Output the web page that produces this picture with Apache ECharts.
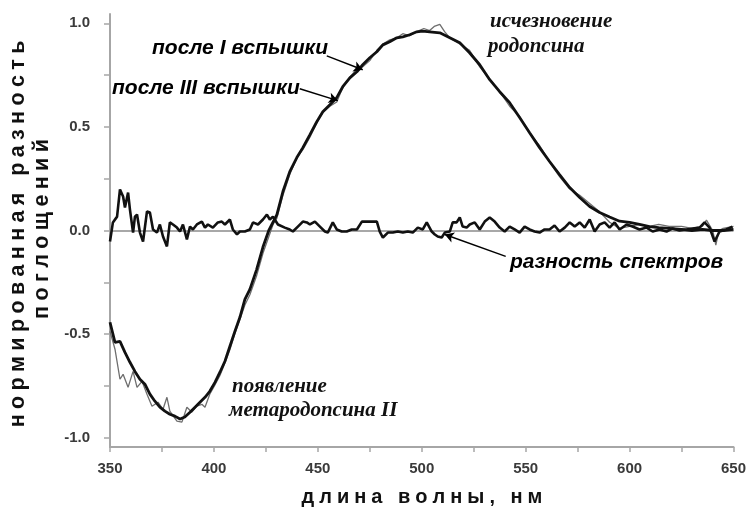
<!DOCTYPE html>
<html>
<head>
<meta charset="utf-8">
<script src="https://cdn.jsdelivr.net/npm/echarts@6/dist/echarts.min.js"></script>
<style>html,body{margin:0;padding:0;background:#fff;}#c{width:749px;height:508px;}</style>
</head>
<body>
<div id="c"></div>
<script>
// ---- data ----
const xTicks = [350, 400, 450, 500, 550, 600, 650];
const yTickLabels = [-1, -0.5, 0, 0.5, 1];
const yTicks = [-1, -0.75, -0.5, -0.25, 0, 0.25, 0.5, 0.75, 1];

// after the 1st flash (thick)
const wlThick = [350,352.4,354.8,357.2,359.6,362,364.4,366.8,369.2,371.6,374,376.4,378.8,381.2,383.7,386,388.5,390.9,393.3,395.7,398,400.5,402.9,405.3,407.7,410,412.5,414.9,417.3,420.5,423.6,426.4,430.3,433.2,436.5,439.9,442.8,446.2,449.5,452.4,455.8,459.1,462,465.4,468.8,471.6,475,478.4,481.3,484.6,488,490.9,494.2,497.6,500.5,503.8,508.7,513.5,518.3,523,527.9,532.7,537.5,542.3,547.1,551.9,556.7,561.5,566.3,571.2,576,580.8,585.6,590.4,595.2,600,604.8,609.6,614,619,625,630,635,640,645,650];
const valThick = [-0.443,-0.54,-0.535,-0.588,-0.636,-0.68,-0.718,-0.742,-0.79,-0.824,-0.853,-0.872,-0.887,-0.896,-0.91,-0.9,-0.877,-0.853,-0.829,-0.805,-0.776,-0.733,-0.684,-0.631,-0.559,-0.49,-0.419,-0.333,-0.284,-0.19,-0.08,0,0.077,0.188,0.284,0.352,0.4,0.463,0.525,0.573,0.607,0.641,0.694,0.737,0.766,0.8,0.834,0.863,0.896,0.911,0.93,0.935,0.945,0.959,0.962,0.959,0.954,0.93,0.906,0.858,0.8,0.728,0.67,0.617,0.545,0.472,0.4,0.333,0.27,0.207,0.159,0.116,0.087,0.065,0.045,0.039,0.029,0.019,0.014,0.01,0.005,0,0.005,0,0,0.005];

// after the 3rd flash (thin gray)
const wlGray = [350,352.4,354.8,356.3,358.7,361.1,363,365.4,367.8,370.2,373.1,375.5,377.4,378.8,382.2,384.6,387,389.4,391.8,394.2,395.7,398,400.5,402.9,405.3,407.7,410,412.5,414.9,417.3,420.5,423.6,426.4,428.5,430.3,433.2,436.5,439.9,442.8,446.2,449.5,452.4,455.8,459.1,462,465.4,468.8,471.6,475,478.4,481.3,484.6,488,490.9,494.2,497.6,501,503.8,506,508.7,511,513.5,518.3,523,527.9,532.7,537.5,542.3,547.1,551.9,556.7,561.5,566.3,571.2,576,580.8,585.6,590.4,595.2,600,604.8,609.6,614,619,625,630,635,637,640,641.5,643,645,650];
const valGray = [-0.487,-0.573,-0.718,-0.694,-0.757,-0.68,-0.757,-0.728,-0.79,-0.848,-0.829,-0.863,-0.805,-0.872,-0.92,-0.925,-0.853,-0.877,-0.848,-0.839,-0.853,-0.79,-0.745,-0.7,-0.64,-0.575,-0.5,-0.43,-0.36,-0.31,-0.22,-0.11,-0.03,0.03,0.06,0.17,0.27,0.35,0.39,0.45,0.52,0.57,0.6,0.62,0.69,0.74,0.78,0.79,0.82,0.87,0.9,0.92,0.93,0.95,0.94,0.96,0.975,0.965,0.985,0.995,0.96,0.93,0.9,0.87,0.79,0.73,0.67,0.6,0.55,0.47,0.41,0.33,0.26,0.2,0.17,0.13,0.09,0.04,0.01,0.02,0.03,0.02,0.03,0.02,0.02,0.01,0.02,0.05,0.0,-0.07,0.0,0.01,0.02];

// spectra difference (thick noisy, near zero)
const wlDiff = [350,351.4,353.4,354.8,356.3,357.2,358.7,359.6,361.1,362,363,364.4,365.9,367.8,369.2,370.7,372.6,374,375.5,377.4,378.8,380.3,382.2,383.7,385.1,387,388.5,389.9,391.8,394.2,395.7,397.1,399.5,401.9,403.8,405.3,407.7,409.1,411.1,412.5,414.9,417.3,418.8,421.2,423.6,425.5,426.9,428.4,430.8,434.1,436.5,438,440.4,442.8,444.7,446.2,448.6,451,453.4,454.8,457.2,459.1,461.5,463.9,466.3,468.8,471.2,473.6,476,478.4,479.8,481.3,483.7,486.1,488.5,490.9,493.3,495.7,498.1,500.5,502.4,504.8,506.3,507.7,509.6,511.1,513.5,514.9,516.8,518.3,519.7,521.6,523.1,525.5,527.9,530.3,532.7,535.1,537.5,539.9,542.3,544.7,547.1,549.5,551.9,554.3,556.7,559.1,561.5,563.9,566.3,568.8,571.2,573.6,576,578.4,580.8,583.2,585.6,588,590.4,592.8,595.2,598.6,601.4,604.8,608.2,611.1,614.4,617.8,620.7,624,627.4,630.3,633.7,636.1,638.5,640.9,643.3,646.6,649.5];
const valDiff = [-0.053,0.039,0.067,0.198,0.164,0.111,0.183,0.101,-0.01,0.067,0.077,-0.01,-0.053,0.092,0.087,0.005,-0.01,0.029,-0.029,-0.077,0.039,0.029,0.014,-0.005,0.029,-0.043,0.019,0.005,0.029,0.043,0.014,0.029,0.014,0.039,0.043,0.029,0.053,0.005,-0.019,-0.005,-0.005,0.005,0.039,0.029,0.053,0.077,0.053,0.067,0.029,0.014,0.005,-0.005,0.019,0.043,0.039,0.029,0.043,0.019,-0.005,-0.01,0.039,0.005,-0.005,-0.005,0.005,0.005,0.043,0.043,0.043,0.043,-0.005,-0.034,-0.01,-0.01,-0.005,-0.01,-0.005,-0.01,0.014,0.005,0.039,-0.005,-0.019,-0.029,-0.034,-0.01,-0.005,0.039,0.039,0.063,0.019,0.014,0.029,0.039,0.005,0.043,0.063,0.043,0.014,-0.005,0.019,0.005,-0.01,0.019,0.005,-0.005,-0.01,0.005,0.005,0.024,-0.005,0.014,0.039,0.019,0.039,0.014,0.053,-0.005,0.029,0.039,0.014,0.039,0.005,0.029,0.019,0.005,0.014,-0.005,0.005,-0.005,0.01,0,0.005,0.01,0.014,0.039,0.014,-0.053,-0.005,0.005,0.019];

// texts
const xTitle = 'длина волны, нм';
const yTitle1 = 'нормированная разность';
const yTitle2 = 'поглощений';
const lblFlash1 = 'после I вспышки';
const lblFlash3 = 'после III вспышки';
const lblDiff = 'разность спектров';
const lblRhod1 = 'исчезновение';
const lblRhod2 = 'родопсина';
const lblMeta1 = 'появление';
const lblMeta2 = 'метародопсина II';

// arrows (from label to curve), in data units [wavelength, value]
const arrowFlash1 = [[454.3, 0.843], [471.6, 0.776]];
const arrowFlash3 = [[441.3, 0.684], [459.6, 0.627]];
const arrowDiff = [[540.4, -0.125], [511.1, -0.019]];

// ---- chart ----
function zip(a, b) { const n = Math.min(a.length, b.length); const r = []; for (let i = 0; i < n; i++) r.push([a[i], b[i]]); return r; }
function spaced(s) { return s.split('').join('\u2005'); }
const SANS = '"Liberation Sans", Arial, sans-serif';
const SERIF = '"Liberation Serif", "Times New Roman", serif';
const AX = '#a6a6a6';

const chart = echarts.init(document.getElementById('c'), null, { renderer: 'canvas' });
chart.setOption({
  animation: false,
  backgroundColor: '#fff',
  grid: { left: 110, right: 15, top: 14, bottom: 61, containLabel: false },
  xAxis: {
    type: 'value', min: 350, max: 650, interval: 25,
    axisLine: { show: true, onZero: false, lineStyle: { color: AX, width: 2 } },
    axisTick: { show: true, length: 5, lineStyle: { color: AX, width: 1.5 } },
    axisLabel: { margin: 14, color: '#3a3a3a', fontFamily: SANS, fontWeight: 'bold', fontSize: 15,
      formatter: v => (xTicks.indexOf(v) >= 0 ? String(v) : '') },
    splitLine: { show: false }
  },
  yAxis: {
    type: 'value', min: -1.045, max: 1.045,
    axisLine: { show: true, onZero: false, lineStyle: { color: AX, width: 2 } },
    axisTick: { show: true, length: 6, customValues: yTicks, lineStyle: { color: AX, width: 1.5 } },
    axisLabel: { margin: 20, color: '#3a3a3a', fontFamily: SANS, fontWeight: 'bold', fontSize: 15,
      customValues: yTickLabels, formatter: v => v.toFixed(1) },
    splitLine: { show: false }
  },
  series: [
    { type: 'line', data: zip(wlGray, valGray), showSymbol: false, z: 2,
      lineStyle: { color: '#6e6e6e', width: 1.3 },
      markLine: { silent: true, symbol: 'none', label: { show: false }, z: 1,
        lineStyle: { color: '#a8a8a8', width: 2, type: 'solid' }, data: [{ yAxis: 0 }] } },
    { type: 'line', data: zip(wlThick, valThick), showSymbol: false, z: 3,
      lineStyle: { color: '#111', width: 2.8 } },
    { type: 'line', data: zip(wlDiff, valDiff), showSymbol: false, z: 4,
      lineStyle: { color: '#111', width: 2.6 },
      markLine: { silent: true, symbol: ['none', 'arrow'], symbolSize: [8, 9], label: { show: false },
        lineStyle: { color: '#000', width: 1.5, type: 'solid' },
        data: [arrowFlash1, arrowFlash3, arrowDiff].map(a => [{ coord: a[0] }, { coord: a[1] }]) } }
  ],
  graphic: [
    { type: 'text', x: 18, y: 234, rotation: Math.PI / 2,
      style: { text: spaced(yTitle1), font: 'bold 21.5px ' + SANS, fill: '#111', textAlign: 'center', textVerticalAlign: 'middle' } },
    { type: 'text', x: 42, y: 229, rotation: Math.PI / 2,
      style: { text: spaced(yTitle2), font: 'bold 21.5px ' + SANS, fill: '#111', textAlign: 'center', textVerticalAlign: 'middle' } },
    { type: 'text', x: 422, y: 497,
      style: { text: spaced(xTitle), font: 'bold 20px ' + SANS, fill: '#111', textAlign: 'center', textVerticalAlign: 'middle' } },
    { type: 'text', x: 152, y: 48,
      style: { text: lblFlash1, font: 'italic bold 21px ' + SANS, fill: '#000', textAlign: 'left', textVerticalAlign: 'middle' } },
    { type: 'text', x: 112, y: 88,
      style: { text: lblFlash3, font: 'italic bold 21px ' + SANS, fill: '#000', textAlign: 'left', textVerticalAlign: 'middle' } },
    { type: 'text', x: 510, y: 262,
      style: { text: lblDiff, font: 'italic bold 21px ' + SANS, fill: '#000', textAlign: 'left', textVerticalAlign: 'middle' } },
    { type: 'text', x: 490, y: 22,
      style: { text: lblRhod1, font: 'italic bold 21px ' + SERIF, fill: '#111', textAlign: 'left', textVerticalAlign: 'middle' } },
    { type: 'text', x: 488, y: 47,
      style: { text: lblRhod2, font: 'italic bold 21px ' + SERIF, fill: '#111', textAlign: 'left', textVerticalAlign: 'middle' } },
    { type: 'text', x: 232, y: 387,
      style: { text: lblMeta1, font: 'italic bold 21px ' + SERIF, fill: '#111', textAlign: 'left', textVerticalAlign: 'middle' } },
    { type: 'text', x: 229, y: 411,
      style: { text: lblMeta2, font: 'italic bold 21px ' + SERIF, fill: '#111', textAlign: 'left', textVerticalAlign: 'middle' } }
  ]
});
</script>
</body>
</html>
